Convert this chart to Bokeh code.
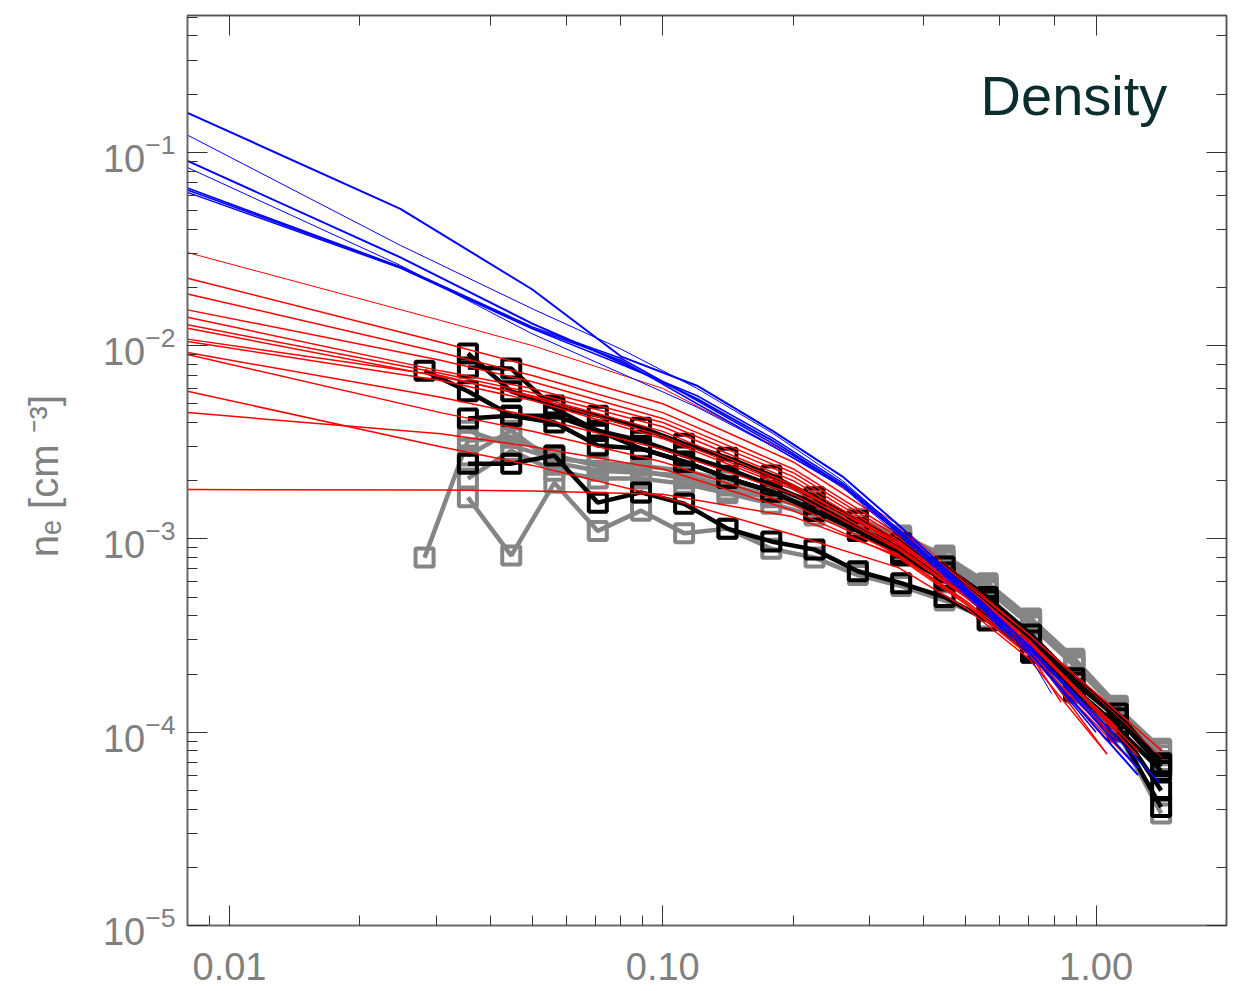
from bokeh.plotting import figure
from bokeh.models import LogAxis, Label, PrintfTickFormatter, CustomJSTickFormatter
from bokeh.embed import file_html
from bokeh.resources import INLINE

# ---------------- data ----------------
bin_r = [0.0282, 0.0355, 0.0447, 0.0562, 0.0708, 0.0891, 0.112, 0.141, 0.178,
         0.224, 0.282, 0.355, 0.447, 0.562, 0.708, 0.891, 1.122, 1.413]

# grey measured profiles (None = no bin)
grey_1 = [8.0e-4, 3.22e-3, 3.34e-3, 2.70e-3, 2.39e-3, 2.25e-3, 2.05e-3, 1.78e-3, 1.64e-3,
          1.40e-3, 1.17e-3, 9.8e-4, 7.9e-4, 5.5e-4, 3.65e-4, 2.29e-4, 1.33e-4, 8.2e-5]
grey_2 = [None, 1.64e-3, 8.2e-4, 1.95e-3, 1.10e-3, 1.40e-3, 1.07e-3, 1.13e-3, 8.9e-4,
          8.0e-4, 6.5e-4, 5.7e-4, 4.8e-4, 3.87e-4, 2.58e-4, 1.60e-4, 1.0e-4, 3.8e-5]
grey_3 = [None, 2.05e-3, 2.86e-3, 2.25e-3, 2.05e-3, 2.05e-3, 1.93e-3, 1.72e-3, 1.52e-3,
          1.32e-3, 1.10e-3, 9.2e-4, 7.3e-4, 5.4e-4, 3.56e-4, 2.21e-4, 1.30e-4, 8.0e-5]
grey_4 = [None, 2.70e-3, 3.63e-3, 2.48e-3, 2.25e-3, 2.20e-3, 2.13e-3, 1.89e-3, 1.68e-3,
          1.49e-3, 1.24e-3, 1.01e-3, 7.7e-4, 5.7e-4, 3.78e-4, 2.35e-4, 1.33e-4, 7.6e-5]
grey_5 = [None, 3.63e-3, 3.04e-3, 2.60e-3, 2.48e-3, 2.39e-3, 2.25e-3, 2.0e-3, 1.78e-3,
          1.58e-3, 1.27e-3, 1.04e-3, 8.2e-4, 5.9e-4, 3.87e-4, 2.40e-4, 1.37e-4, 7.1e-5]

# black measured profiles
black_1 = [None, 9.1e-3, 5.8e-3, 4.9e-3, 4.34e-3, 3.76e-3, 3.11e-3, 2.63e-3, 2.13e-3,
           1.64e-3, 1.24e-3, 9.5e-4, 7.2e-4, 5.0e-4, 3.2e-4, 1.90e-4, 1.25e-4, 6.9e-5]
black_2 = [None, 7.7e-3, 7.6e-3, 4.72e-3, 3.63e-3, 3.22e-3, 2.70e-3, 2.31e-3, 1.89e-3,
           1.52e-3, 1.14e-3, 9.0e-4, 6.7e-4, 4.8e-4, 2.98e-4, 1.81e-4, 1.18e-4, 6.65e-5]
black_3 = [7.4e-3, 5.8e-3, 4.34e-3, 4.34e-3, 3.63e-3, 2.93e-3, 2.51e-3, 2.07e-3, 1.76e-3,
           1.40e-3, 1.14e-3, 8.5e-4, 6.3e-4, 4.5e-4, 2.71e-4, 1.68e-4, 1.08e-4, 5.0e-5]
black_4 = [None, 4.19e-3, 4.34e-3, 4.0e-3, 3.04e-3, 2.93e-3, 2.51e-3, 2.07e-3, 1.76e-3,
           1.40e-3, 1.10e-3, 8.2e-4, 6.1e-4, 4.26e-4, 2.58e-4, 1.64e-4, 1.02e-4, 4.1e-5]
black_5 = [None, 2.45e-3, 2.45e-3, 2.70e-3, 1.54e-3, 1.74e-3, 1.52e-3, 1.13e-3, 9.7e-4,
           8.8e-4, 6.8e-4, 5.9e-4, 5.0e-4, 3.78e-4, 2.64e-4, 1.64e-4, 1.05e-4, 6.3e-5]

# red model curves
red_r = [0.008, 0.0307, 0.05, 0.1, 0.2, 0.35, 0.5, 0.7]
red_1 = [0.0303, 0.0135, 0.0100, 0.0060, 0.0027, 1.18e-3, 6.1e-4, 3.2e-4]
red_2 = [0.0223, 0.0104, 0.0078, 0.0050, 0.0025, 1.12e-3, 5.9e-4, 3.2e-4]
red_3 = [0.0185, 0.0092, 0.0070, 0.0045, 0.0023, 1.06e-3, 5.7e-4, 3.0e-4]
red_4 = [0.0153, 0.0084, 0.0065, 0.0042, 0.0022, 1.02e-3, 5.5e-4, 2.9e-4]
red_5 = [0.0140, 0.0074, 0.0060, 0.0040, 0.0021, 9.8e-4, 5.3e-4, 2.6e-4]
red_6 = [0.0128, 0.0072, 0.0057, 0.0038, 0.0020, 9.5e-4, 5.2e-4, 2.7e-4]
red_7 = [0.0123, 0.0069, 0.0055, 0.0036, 0.0019, 9.3e-4, 5.3e-4, 2.9e-4]
red_8 = [0.0108, 0.0070, 0.0054, 0.0034, 0.00185, 9.6e-4, 5.5e-4, 3.0e-4]
red_9 = [0.0105, 0.0066, 0.0052, 0.0033, 0.0018, 9.0e-4, 5.1e-4, 2.8e-4]
red_10 = [0.0092, 0.0054, 0.0043, 0.0029, 0.0017, 8.8e-4, 5.0e-4, 2.7e-4]
red_11 = [0.0090, 0.0045, 0.0036, 0.0025, 0.0015, 8.3e-4, 4.8e-4, 2.6e-4]
red_12 = [0.0058, 0.0030, 0.0024, 0.00165, 0.00105, 7.1e-4, 4.4e-4, 2.4e-4]
red_13 = [0.0045, 0.0035, 0.0030, 0.0023, 0.0014, 8.0e-4, 4.6e-4, 2.5e-4]
red_14 = [0.0018, 0.00179, 0.00177, 0.0017, 0.0013, 8.2e-4, 4.7e-4, 2.5e-4]
red_end_r = [1.42, 1.42, 1.25, 1.12, 0.83, 1.06, 1.12, 1.25, 1.12, 1.06, 0.9, 1.06, 1.12, 1.25]
red_end_n = [7.4e-5, 8.0e-5, 7.5e-5, 1.0e-4, 1.43e-4, 7.7e-5, 1.05e-4, 8.0e-5, 9.0e-5,
             9.0e-5, 1.45e-4, 7.7e-5, 9.0e-5, 6.5e-5]
red_width = [1.0, 1.5, 1.5, 1.5, 1.5, 1.5, 1.5, 1.5, 1.5, 1.5, 1.5, 1.5, 1.5, 1.5]

# blue model curves
blue_r = [0.008, 0.0248, 0.05, 0.08, 0.12, 0.18, 0.26, 0.35, 0.5, 0.7]
blue_1 = [0.160, 0.051, 0.0195, 0.0088, 0.0062, 0.0036, 0.0021, 1.18e-3, 5.6e-4, 2.8e-4]
blue_2 = [0.1227, 0.033, 0.0155, 0.0096, 0.0060, 0.0035, 0.0020, 1.12e-3, 5.4e-4, 2.7e-4]
blue_3 = [0.0903, 0.0286, 0.0130, 0.0082, 0.0053, 0.0032, 0.0019, 1.08e-3, 5.3e-4, 2.6e-4]
blue_4 = [0.0834, 0.026, 0.0115, 0.0072, 0.0048, 0.0030, 0.00185, 1.04e-3, 5.1e-4, 2.5e-4]
blue_5 = [0.0653, 0.0256, 0.0125, 0.0086, 0.0052, 0.0031, 0.0019, 1.10e-3, 5.4e-4, 2.7e-4]
blue_6 = [0.0638, 0.0254, 0.0123, 0.0084, 0.0050, 0.0030, 0.00188, 1.07e-3, 5.2e-4, 2.6e-4]
blue_7 = [0.062, 0.0252, 0.0122, 0.0080, 0.0055, 0.0033, 0.00195, 1.12e-3, 5.5e-4, 2.8e-4]
blue_end_r = [1.25, 1.12, 1.25, 0.79, 1.12, 1.0, 1.4]
blue_end_n = [6.5e-5, 9.0e-5, 6.0e-5, 1.58e-4, 9.5e-5, 1.0e-4, 5.5e-5]
blue_width = [2.0, 1.0, 2.0, 1.0, 1.5, 1.5, 1.5]

title_text = "Density"
y_label = "nₑ  [cm ⁻³]"

# ---------------- figure ----------------
p = figure(width=1244, height=991, x_axis_type="log", y_axis_type="log",
           x_range=(0.008, 2.0), y_range=(1e-5, 0.51),
           output_backend="svg", toolbar_location=None,
           min_border_left=187, min_border_right=18, min_border_top=15,
           min_border_bottom=66)
p.xgrid.visible = False
p.ygrid.visible = False
p.outline_line_color = "#444444"
p.outline_line_width = 1.5
p.background_fill_color = "white"
p.border_fill_color = "white"

TICK_FONT = "Liberation Sans"
for ax in (p.xaxis[0], p.yaxis[0]):
    ax.major_tick_in = 20
    ax.major_tick_out = 0
    ax.minor_tick_in = 10
    ax.minor_tick_out = 0
    ax.major_tick_line_color = "#333333"
    ax.minor_tick_line_color = "#333333"
    ax.axis_line_color = "#666666"
    ax.axis_line_width = 1.5
    ax.major_label_text_font = TICK_FONT
    ax.major_label_text_font_size = "38px"
    ax.major_label_text_color = "#808080"

p.xaxis[0].formatter = PrintfTickFormatter(format="%.2f")
p.xaxis[0].major_label_standoff = 27
p.xaxis[0].major_label_text_line_height = 0.9
p.yaxis[0].major_label_standoff = 12
p.yaxis[0].axis_label = y_label
p.yaxis[0].axis_label_text_font = TICK_FONT
p.yaxis[0].axis_label_text_font_size = "40px"
p.yaxis[0].axis_label_text_font_style = "normal"
p.yaxis[0].axis_label_text_color = "#808080"
p.yaxis[0].axis_label_standoff = 34

for loc in ("above", "right"):
    ax = LogAxis(major_tick_in=20, major_tick_out=0, minor_tick_in=10, minor_tick_out=0,
                 major_label_standoff=0,
                 formatter=CustomJSTickFormatter(code="return ''"),
                 major_tick_line_color="#333333", minor_tick_line_color="#333333",
                 axis_line_color="#555555", axis_line_width=1.5)
    p.add_layout(ax, loc)

def clean(xs, ys):
    px, py = [], []
    for xv, yv in zip(xs, ys):
        if yv is not None:
            px.append(xv)
            py.append(yv)
    return px, py

# grey measured profiles
for g in (grey_1, grey_2, grey_3, grey_4, grey_5):
    xs, ys = clean(bin_r, g)
    p.line(xs, ys, line_color="#858585", line_width=4.5)
    p.scatter(xs, ys, marker="square", size=18, fill_color=None,
              line_color="#858585", line_width=4)

# black measured profiles
for b in (black_1, black_2, black_3, black_4, black_5):
    xs, ys = clean(bin_r, b)
    p.line(xs, ys, line_color="black", line_width=4.5)
    p.scatter(xs, ys, marker="square", size=18, fill_color=None,
              line_color="black", line_width=4)

# red model curves
reds = [red_1, red_2, red_3, red_4, red_5, red_6, red_7, red_8, red_9, red_10,
        red_11, red_12, red_13, red_14]
for i, r in enumerate(reds):
    xs = list(red_r) + [red_end_r[i]]
    ys = list(r) + [red_end_n[i]]
    p.line(xs, ys, line_color="#ff0000", line_width=red_width[i])

# blue model curves
blues = [blue_1, blue_2, blue_3, blue_4, blue_5, blue_6, blue_7]
for i, b in enumerate(blues):
    xs = list(blue_r) + [blue_end_r[i]]
    ys = list(b) + [blue_end_n[i]]
    p.line(xs, ys, line_color="#0000ff", line_width=blue_width[i])

p.add_layout(Label(x=1.46, y=0.196, text=title_text, text_align="right",
                   text_baseline="alphabetic", text_font="Liberation Sans",
                   text_font_size="56px", text_color="#0a2d2d"))

open("out.html", "w").write(file_html(p, INLINE))
